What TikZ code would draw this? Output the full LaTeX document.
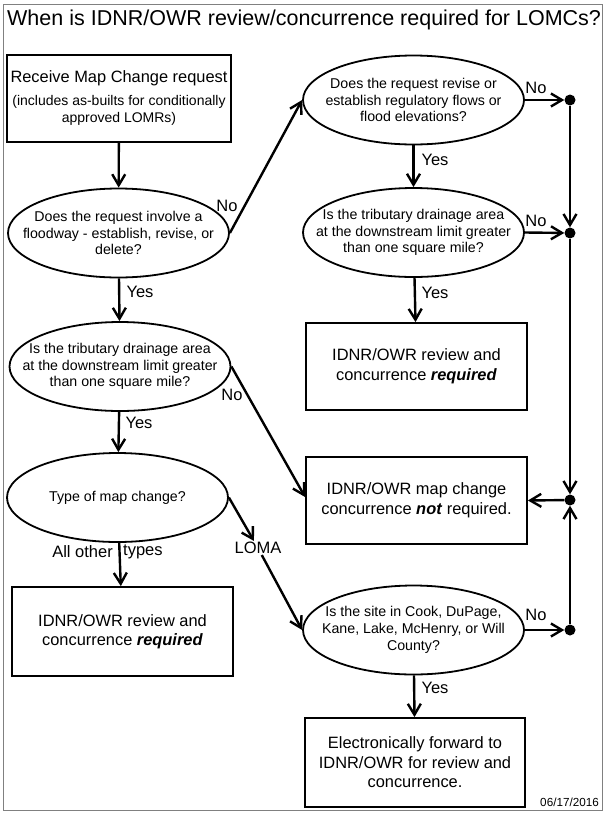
\documentclass[tikz,border=0pt]{standalone}
\usepackage{fontspec}
\setmainfont{Liberation Sans}
\usetikzlibrary{arrows.meta,positioning,shapes.geometric}
\definecolor{frame}{RGB}{128,128,128}
\newcommand{\smalltext}{\fontsize{14}{17}\selectfont}

\begin{document}
\begin{tikzpicture}
  [x=1pt,y=-1pt,
    every node/.style={font=\fontsize{16.5}{18}\selectfont},
    box/.style={rectangle,draw,line width=1.8pt,minimum width=221pt,minimum height=87pt,
      align=center,font=\fontsize{16.4}{19.5}\selectfont},
    decision/.style={ellipse,draw,line width=1.8pt,minimum width=221pt,minimum height=89pt,
      inner xsep=-30pt,inner ysep=0pt,align=center,font=\fontsize{14.2}{16.8}\selectfont},
    arr/.style={line width=2.4pt,-{Straight Barb[length=11pt,width=13pt,line width=2.4pt]}},
    dot/.style={circle,fill,inner sep=0pt,minimum size=11pt},
    word/.style={inner sep=1pt},
  ]

  \useasboundingbox (0,0) rectangle (611,815);
  \draw[frame,line width=1pt] (3.5,4) rectangle (602.5,810);

  \node[anchor=west,inner sep=0pt,font=\fontsize{21.5}{24}\selectfont] (title) at (7,20)
    {When is IDNR/OWR review/concurrence required for LOMCs?};

  \node[box,minimum width=222pt] (recv) at (119,98.5)
    {Receive Map Change request\\[3pt]
     \smalltext (includes as-builts for conditionally\\[-2pt] \smalltext approved LOMRs)};
  \node[decision] (flood) at (118.5,233) {Does the request involve a\\ floodway - establish, revise, or\\ delete?};
  \node[decision] (trib2) at (120,366.5) {Is the tributary drainage area\\ at the downstream limit greater\\ than one square mile?};
  \node[decision] (type) at (117.5,497.5) {Type of map change?};
  \node[box,minimum height=89pt] (req2) at (122.5,631.5) {IDNR/OWR review and\\ concurrence \textbf{\textit{required}}};

  \node[decision] (flows) at (413.5,100) {Does the request revise or\\ establish regulatory flows or\\ flood elevations?};
  \node[decision] (trib1) at (413.5,232.5) {Is the tributary drainage area\\ at the downstream limit greater\\ than one square mile?};
  \node[box] (req1) at (416.5,366.5) {IDNR/OWR review and\\ concurrence \textbf{\textit{required}}};
  \node[box] (notreq) at (416.5,500.5) {IDNR/OWR map change\\ concurrence \textbf{\textit{not}} required.};
  \node[decision] (site) at (413.5,630) {Is the site in Cook, DuPage,\\ Kane, Lake, McHenry, or Will\\ County?};
  \node[box,minimum width=220pt,minimum height=89pt] (fwd) at (415,762.5)
    {Electronically forward to\\ IDNR/OWR for review and\\ concurrence.};

  \node[dot] (d1) at (570,100) {};
  \node[dot] (d2) at (570,233) {};
  \node[dot] (d3) at (570,500) {};
  \node[dot] (d4) at (570,630) {};

  \node[word] (loma) at (258,548) {LOMA};
  \node[word,anchor=east] (allother) at (114,552) {All other};
  \node[word,anchor=west] (types) at (122,552) {types};

  \draw[arr] (recv) -- (flood);
  \draw[arr] (flood.east) -- (flows.west);
  \draw[arr] (flood) -- (trib2);
  \draw[arr] (trib2) -- (type);
  \draw[arr] (type) -- (req2);
  \draw[arr] (trib2.east) -- (notreq.west |- 0,497);
  \draw[arr] (type.east) -- (loma);
  \draw[arr] (loma) -- (site.west);

  \draw[arr] (flows) -- (trib1);
  \draw[arr] (trib1) -- (req1);
  \draw[arr] (site) -- (fwd);
  \draw[arr] (flows.east) -- (d1);
  \draw[arr] (trib1.east) -- (d2);
  \draw[arr] (site.east) -- (d4);
  \draw[arr] (d1) -- (d2);
  \draw[arr] (d2) -- (d3);
  \draw[arr] (d4) -- (d3);
  \draw[arr] (d3) -- (notreq.east);

  \node[word] at (227,206) {No};
  \node[word] at (140,292) {Yes};
  \node[word] at (232,395) {No};
  \node[word] at (139,423) {Yes};
  \node[word] at (536,88) {No};
  \node[word] at (435,160) {Yes};
  \node[word] at (536,221) {No};
  \node[word] at (435,293) {Yes};
  \node[word] at (536,615) {No};
  \node[word] at (435,688) {Yes};

  \node[anchor=east,inner sep=0pt,font=\fontsize{11.7}{13}\selectfont] (date) at (599,802) {06/17/2016};
\end{tikzpicture}
\end{document}
